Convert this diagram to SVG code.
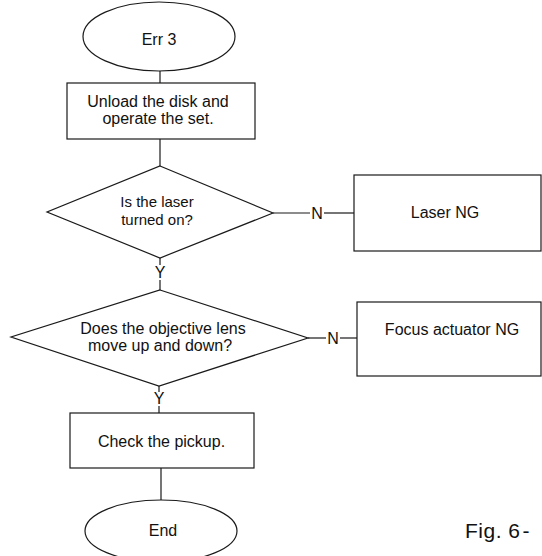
<svg xmlns="http://www.w3.org/2000/svg" width="542" height="556" viewBox="0 0 542 556">
<style>
.s{fill:#fff;stroke:#1a1a1a;stroke-width:1.2}
.c{fill:none;stroke:#1a1a1a;stroke-width:1.2}
text{font-family:"Liberation Sans",Arial,sans-serif;font-size:16px;fill:#111;text-anchor:middle}
</style>
<rect width="542" height="556" fill="#fff"/>
<g id="connectors">
<line class="c" x1="160" y1="71" x2="160" y2="83"/>
<line class="c" x1="160" y1="139" x2="160" y2="166"/>
<line class="c" x1="273" y1="213" x2="310" y2="213"/>
<line class="c" x1="324" y1="213" x2="354" y2="213"/>
<line class="c" x1="160" y1="258" x2="160" y2="265"/>
<line class="c" x1="160" y1="280" x2="160" y2="290"/>
<line class="c" x1="308" y1="338" x2="326" y2="338"/>
<line class="c" x1="340" y1="338" x2="357" y2="338"/>
<line class="c" x1="159" y1="386" x2="159" y2="392"/>
<line class="c" x1="159" y1="406" x2="159" y2="413"/>
<line class="c" x1="161" y1="468" x2="161" y2="500"/>
<text x="317" y="219">N</text>
<text x="333" y="344">N</text>
<text x="160" y="278">Y</text>
<text x="159" y="404">Y</text>
</g>
<g id="start">
<ellipse class="s" cx="159" cy="36.5" rx="76" ry="34.5"/>
<text x="159" y="45">Err 3</text>
</g>
<g id="unload">
<rect class="s" x="67" y="83" width="188" height="56"/>
<text x="158" y="107">Unload the disk and</text>
<text x="158" y="124">operate the set.</text>
</g>
<g id="laser-q">
<polygon class="s" points="160,166 273,213 160,258 47,212"/>
<text x="157" y="207" style="font-size:15px">Is the laser</text>
<text x="157" y="225" style="font-size:15px">turned on?</text>
</g>
<g id="laser-ng">
<rect class="s" x="354" y="175" width="187" height="76"/>
<text x="445" y="218">Laser NG</text>
</g>
<g id="lens-q">
<polygon class="s" points="160,290 308,338 159,386 11,337"/>
<text x="163" y="334">Does the objective lens</text>
<text x="160" y="351">move up and down?</text>
</g>
<g id="focus-ng">
<rect class="s" x="357" y="302" width="184" height="74"/>
<text x="452" y="335">Focus actuator NG</text>
</g>
<g id="check">
<rect class="s" x="70" y="413" width="184" height="55"/>
<text x="161.5" y="447">Check the pickup.</text>
</g>
<g id="end">
<ellipse class="s" cx="161" cy="531" rx="76" ry="31"/>
<text x="163" y="536">End</text>
</g>
<text x="465" y="538" style="font-size:21px;text-anchor:start;letter-spacing:0.5px">Fig. 6<tspan dx="2">-</tspan></text>
</svg>
